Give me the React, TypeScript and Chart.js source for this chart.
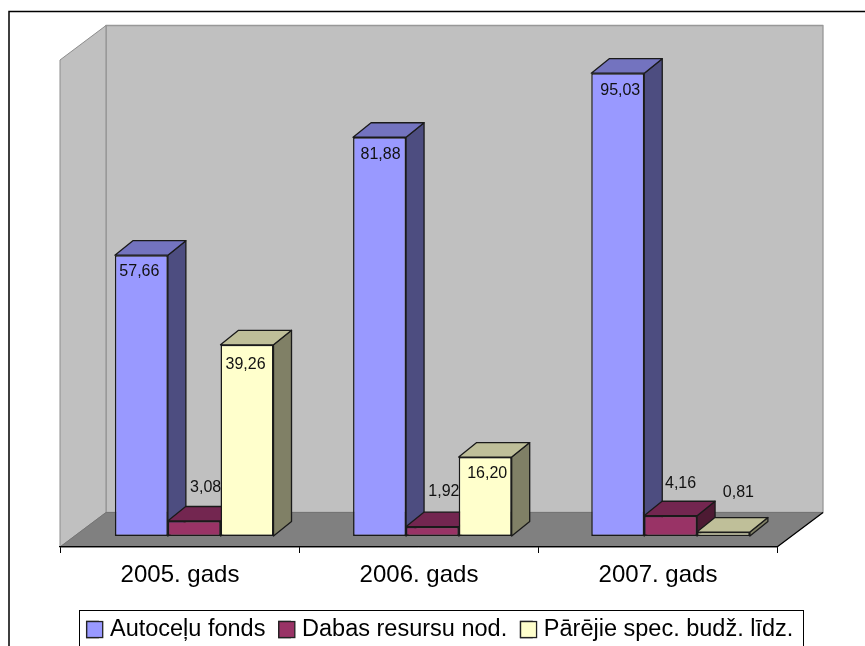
import React, { useEffect, useRef } from "react";
import { Chart, registerables } from "chart.js";

Chart.register(...registerables);

const categories = ["2005. gads", "2006. gads", "2007. gads"];
const seriesNames = ["Autoceļu fonds", "Dabas resursu nod.", "Pārējie spec. budž. līdz."];
const autoceluFonds = [57.66, 81.88, 95.03];
const dabasResursuNod = [3.08, 1.92, 4.16];
const parejieSpecBudz = [39.26, 16.2, 0.81];

const FONT = "'Liberation Sans', Arial, sans-serif";
const fronts = ["#9999FF", "#993366", "#FFFFCC"];
const sides = ["#4D4D80", "#4D1A33", "#808066"];
const tops = ["#7373BF", "#732650", "#BFBF99"];
const EDGE = "#1a1a1a";

// Label nudges relative to the top-centre of each bar's front face
const labelNudgeX = [
  [-2, 1, 2.5],
  [11.5, 11.5, 10],
  [-1.5, 2, 15],
];
const labelNudgeY = [
  [16, 17, 17.5],
  [-33, -35, -32],
  [20, 16, -39],
];

const WALL_DX = 46;
const WALL_DY = 34.5;
const BAR_DX = 18;
const BAR_DY = 14.5;
const PLANE_SHIFT_X = 15.1;
const PLANE_SHIFT_Y = 11;
const PLANE_SCALE_X = 0.9966;
const LEGEND_FONT = 23.5;
const LEGEND_ROW_TOP = 617.8;

function poly(ctx: CanvasRenderingContext2D, pts: number[][], fill: string | null, stroke: string | null, lw = 1) {
  ctx.beginPath();
  pts.forEach((p, i) => (i ? ctx.lineTo(p[0], p[1]) : ctx.moveTo(p[0], p[1])));
  ctx.closePath();
  if (fill) {
    ctx.fillStyle = fill;
    ctx.fill();
  }
  if (stroke) {
    ctx.strokeStyle = stroke;
    ctx.lineWidth = lw;
    ctx.lineJoin = "round";
    ctx.stroke();
  }
}

const threeD = {
  id: "threeD",
  afterLayout(chart: any) {
    const L = chart.legend;
    if (!L) return;
    const w = L.right - L.left;
    const h = L.bottom - L.top;
    const dx = 440 - w / 2 - L.left;
    const newTop = LEGEND_ROW_TOP - L.options.labels.padding;
    const dy = newTop - L.top;
    L.left += dx;
    L.right += dx;
    L.top += dy;
    L.bottom = L.top + h;
    (L.legendHitBoxes || []).forEach((b: any) => {
      b.left += dx;
      b.top += dy;
    });
  },
  afterDatasetsUpdate(chart: any) {
    const left = chart.chartArea.left;
    chart.data.datasets.forEach((_: any, i: number) => {
      chart.getDatasetMeta(i).data.forEach((el: any) => {
        el.x = left + (el.x - left) * PLANE_SCALE_X + PLANE_SHIFT_X;
        el.y -= PLANE_SHIFT_Y;
        el.base -= PLANE_SHIFT_Y;
      });
    });
  },
  beforeDraw(chart: any) {
    const { ctx, chartArea: a } = chart;
    ctx.save();
    // page background
    ctx.fillStyle = "#FFFFFF";
    ctx.fillRect(0, 0, chart.width, chart.height);
    // outer chart frame, running off the right and bottom of the picture
    ctx.strokeStyle = "#000000";
    ctx.lineWidth = 1.5;
    ctx.strokeRect(9, 11.5, 1000, 1000);
    const bl = a.left + WALL_DX;
    const br = a.right + WALL_DX;
    const bt = a.top - WALL_DY;
    const bb = a.bottom - WALL_DY;
    // back wall
    poly(ctx, [[bl, bt], [br, bt], [br, bb], [bl, bb]], "#C0C0C0", "#989898", 1.3);
    // left wall
    poly(ctx, [[a.left, a.top], [bl, bt], [bl, bb], [a.left, a.bottom]], "#C0C0C0", "#8c8c8c", 1);
    // floor
    poly(ctx, [[a.left, a.bottom], [a.right, a.bottom], [br, bb], [bl, bb]], "#808080", "#747474", 1);
    ctx.beginPath();
    ctx.moveTo(a.right, a.bottom);
    ctx.lineTo(br, bb);
    ctx.strokeStyle = "#000000";
    ctx.lineWidth = 1.2;
    ctx.stroke();
    ctx.restore();
  },
  beforeDatasetsDraw(chart: any) {
    const { ctx } = chart;
    ctx.save();
    chart.data.datasets.forEach((_: any, i: number) => {
      chart.getDatasetMeta(i).data.forEach((el: any) => {
        const l = el.x - el.width / 2;
        const r = el.x + el.width / 2;
        const t = el.y;
        const b = el.base;
        poly(ctx, [[r, t], [r + BAR_DX, t - BAR_DY], [r + BAR_DX, b - BAR_DY], [r, b]], sides[i], EDGE, 1.3);
        poly(ctx, [[l, t], [r, t], [r + BAR_DX, t - BAR_DY], [l + BAR_DX, t - BAR_DY]], tops[i], EDGE, 1.3);
      });
    });
    ctx.restore();
  },
  afterDatasetsDraw(chart: any) {
    const { ctx } = chart;
    ctx.save();
    ctx.font = `16px ${FONT}`;
    ctx.fillStyle = "#111111";
    ctx.textAlign = "center";
    ctx.textBaseline = "middle";
    chart.data.datasets.forEach((ds: any, i: number) => {
      chart.getDatasetMeta(i).data.forEach((el: any, j: number) => {
        const text = ds.data[j].toFixed(2).replace(".", ",");
        ctx.fillText(text, el.x + labelNudgeX[i][j], el.y + labelNudgeY[i][j]);
      });
    });
    ctx.restore();
  },
  afterDraw(chart: any) {
    const { ctx } = chart;
    const L = chart.legend;
    ctx.save();
    // legend frame, cut by the bottom of the picture
    ctx.strokeStyle = "#000000";
    ctx.lineWidth = 1;
    ctx.strokeRect(79.5, 610.5, 724, 60);
    // full-size swatches, slightly closer to the text than the library default
    const y = LEGEND_ROW_TOP + (LEGEND_FONT - 16) / 2;
    (L?.legendHitBoxes || []).forEach((b: any, i: number) => {
      ctx.fillStyle = fronts[i];
      ctx.fillRect(b.left, y, 16, 16);
      ctx.strokeStyle = "#222222";
      ctx.lineWidth = 1.3;
      ctx.strokeRect(b.left, y, 16, 16);
    });
    ctx.restore();
  },
};

export default function App() {
  const ref = useRef<HTMLCanvasElement>(null);
  useEffect(() => {
    const values = [autoceluFonds, dabasResursuNod, parejieSpecBudz];
    const chart = new Chart(ref.current as HTMLCanvasElement, {
      type: "bar",
      data: {
        labels: categories,
        datasets: seriesNames.map((name, i) => ({
          label: name,
          data: values[i],
          backgroundColor: fronts[i],
          borderColor: EDGE,
          borderWidth: 1.5,
          borderSkipped: false,
          categoryPercentage: 0.6653,
          barPercentage: 1,
          clip: false,
        })),
      },
      options: {
        responsive: false,
        animation: false,
        layout: { padding: { left: 0, right: 0, top: 60, bottom: 0 } },
        plugins: {
          title: { display: false },
          tooltip: { enabled: false },
          legend: {
            display: true,
            position: "bottom",
            labels: {
              boxWidth: 11.5,
              boxHeight: 16,
              padding: 13.4,
              color: "#000000",
              font: { family: FONT, size: LEGEND_FONT },
            },
          },
        },
        scales: {
          x: {
            grid: { drawOnChartArea: false, drawTicks: true, tickLength: 6, color: "#000000", lineWidth: 1 },
            border: { display: true, color: "#000000", width: 1.2 },
            ticks: {
              color: "#000000",
              padding: 8,
              labelOffset: 0.5,
              maxRotation: 0,
              autoSkip: false,
              font: { family: FONT, size: 24 },
            },
            afterFit(scale: any) {
              scale.height = 99 - (scale.chart.legend?.height ?? 0);
            },
          },
          y: {
            position: "left",
            min: 0,
            max: 100,
            grid: { display: false },
            border: { display: false },
            ticks: { display: false },
            afterFit(scale: any) {
              scale.width = 60;
            },
          },
          yRightMargin: {
            position: "right",
            min: 0,
            max: 100,
            grid: { display: false },
            border: { display: false },
            ticks: { display: false },
            afterFit(scale: any) {
              scale.width = 88;
            },
          },
        },
      },
      plugins: [threeD],
    } as any);
    return () => chart.destroy();
  }, []);
  return (
    <div style={{ position: "absolute", left: 0, top: 0, width: 865, height: 646, overflow: "hidden", background: "#fff" }}>
      <canvas ref={ref} width={865} height={646} style={{ display: "block" }} />
    </div>
  );
}
